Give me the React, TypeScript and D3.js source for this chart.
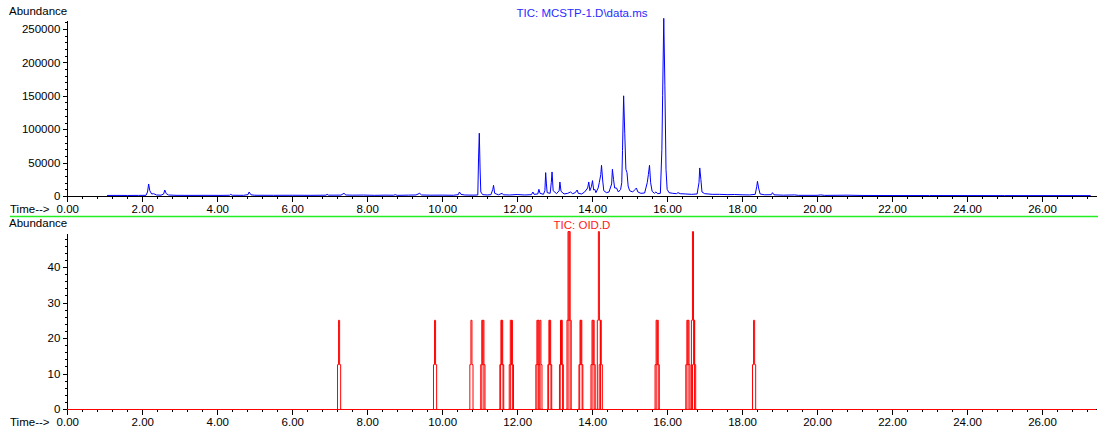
import React, { useRef, useEffect } from "react";
import * as d3 from "d3";

// TIC trace of MCSTP-1.D  [time (min), abundance]
const ticPoints: [number, number][] = [
  [1.06, 800], [1.3, 900], [1.6, 800], [1.9, 900], [2.1, 1000], [2.14, 6000], [2.17, 18000],
  [2.2, 8000], [2.25, 3000], [2.3, 3500], [2.38, 1500], [2.5, 1200], [2.57, 3000], [2.6, 9000],
  [2.64, 3500], [2.7, 1500], [2.9, 1000], [3.3, 900], [3.7, 1000], [4.1, 900], [4.33, 1100],
  [4.36, 2500], [4.4, 1100], [4.7, 1000], [4.82, 2000], [4.85, 6000], [4.9, 1800], [5.0, 1100],
  [5.5, 1000], [6.0, 1100], [6.5, 1000], [6.9, 1200], [6.93, 2500], [6.97, 1200], [7.3, 1300],
  [7.38, 4000], [7.43, 1500], [7.6, 1200], [7.9, 1400], [8.2, 1000], [8.5, 1300], [8.7, 1100],
  [8.75, 2000], [8.8, 1000], [9.1, 1300], [9.3, 1500], [9.4, 4000], [9.45, 1500], [9.7, 1200],
  [10.0, 1300], [10.3, 1100], [10.43, 2000], [10.46, 6000], [10.5, 2500], [10.6, 1500],
  [10.8, 1300], [10.95, 1500], [10.97, 57000], [10.99, 94000], [11.01, 42000], [11.03, 6000],
  [11.08, 2000], [11.2, 1500], [11.3, 2000], [11.35, 10000], [11.37, 16000], [11.4, 4000],
  [11.5, 1800], [11.6, 4000], [11.63, 1800], [11.8, 1500], [12.0, 2200], [12.2, 1500],
  [12.38, 2000], [12.42, 6000], [12.45, 2500], [12.55, 3000], [12.58, 10000], [12.61, 4000],
  [12.7, 2500], [12.74, 8000], [12.76, 35000], [12.78, 18000], [12.8, 5000], [12.88, 4000],
  [12.91, 20000], [12.93, 36000], [12.96, 8000], [13.05, 3500], [13.12, 8000], [13.14, 21000],
  [13.17, 7000], [13.25, 3000], [13.35, 4000], [13.42, 6000], [13.48, 3500], [13.55, 5000],
  [13.6, 9000], [13.63, 4000], [13.72, 3000], [13.8, 6000], [13.88, 12000], [13.91, 21000],
  [13.94, 8000], [13.98, 14000], [14.01, 23000], [14.04, 9000], [14.07, 10000], [14.1, 5000],
  [14.16, 12000], [14.19, 20000], [14.23, 32000], [14.25, 46000], [14.28, 24000], [14.31, 8000],
  [14.38, 5000], [14.45, 6000], [14.52, 18000], [14.54, 40000], [14.57, 25000], [14.6, 12000],
  [14.65, 12000], [14.7, 6000], [14.76, 10000], [14.79, 20000], [14.81, 68000], [14.84, 150000],
  [14.87, 94000], [14.9, 40000], [14.93, 35000], [14.96, 15000], [15.0, 8000], [15.08, 6000],
  [15.15, 10000], [15.18, 12000], [15.22, 6000], [15.3, 4000], [15.4, 4500], [15.47, 20000],
  [15.5, 32000], [15.53, 46000], [15.56, 20000], [15.6, 7000], [15.66, 4000], [15.7, 6000],
  [15.75, 3500], [15.82, 4000], [15.86, 70000], [15.88, 150000], [15.91, 266000],
  [15.94, 165000], [15.97, 40000], [16.0, 10000], [16.05, 5000], [16.15, 4000], [16.25, 3500],
  [16.29, 5000], [16.35, 3500], [16.5, 3000], [16.65, 2500], [16.8, 3000], [16.85, 20000],
  [16.87, 42000], [16.9, 25000], [16.93, 6000], [17.0, 3500], [17.2, 2500], [17.4, 2500],
  [17.6, 2000], [17.8, 2200], [18.0, 1800], [18.2, 1600], [18.35, 2500], [18.39, 14000],
  [18.41, 22000], [18.44, 12000], [18.48, 3000], [18.6, 1800], [18.78, 2000], [18.81, 5000],
  [18.85, 1800], [19.1, 1200], [19.4, 1600], [19.5, 1000], [20.0, 1000], [20.1, 1600],
  [20.2, 900], [20.8, 1200], [21.2, 800], [22, 700], [23, 700], [24, 650], [25, 600],
  [26, 600], [27.3, 600],
];

// OID.D peaks
const oidTimes = [
  7.25, 9.81, 10.78, 11.07, 11.1, 11.58, 11.6, 11.83, 11.86, 12.54, 12.57, 12.62, 12.86, 12.88,
  13.17, 13.19, 13.37, 13.4, 13.69, 13.71, 14.01, 14.04, 14.18, 14.23, 15.72, 15.75, 16.54,
  16.57, 16.69, 16.72, 18.32,
];
const oidHeights = [
  25, 25, 25, 25, 25, 25, 25, 25, 25, 25, 25, 25, 25, 25,
  25, 25, 50, 50, 25, 25, 25, 25, 50, 25, 25, 25, 25,
  25, 50, 25, 25,
];

const timeMajor = d3.range(0, 27, 2);
const timeMinor = d3.range(0, 27.3, 0.4);
const topMajor = [0, 50000, 100000, 150000, 200000, 250000];
const topMinor = d3.range(0, 262000, 10000);
const botMajor = [0, 10, 20, 30, 40];
const botMinor = d3.range(0, 50, 2);

const FONT = "'Liberation Sans', Arial, sans-serif";

const App = () => {
  const svgRef = useRef<SVGSVGElement>(null);

  useEffect(() => {
    const svg = d3.select(svgRef.current);
    svg.selectAll("*").remove();

    const x = d3.scaleLinear().domain([0, 27.44]).range([67.3, 1096]);
    const yTop = d3.scaleLinear().domain([0, 263500]).range([196, 20]);
    const yBot = d3.scaleLinear().domain([0, 49.6]).range([409, 233]);

    const styleAxis = (g: any) => {
      g.attr("font-family", FONT).attr("font-size", 11.5);
      g.selectAll("path,line").attr("stroke", "#000").attr("shape-rendering", "crispEdges");
      g.selectAll("text").attr("fill", "#000");
    };

    const drawPanel = (y: any, baseY: number, major: number[], minor: number[]) => {
      // minor x ticks
      svg.append("g")
        .attr("transform", `translate(0,${baseY})`)
        .call(d3.axisBottom(x).tickValues(timeMinor).tickSize(3).tickFormat(() => ""))
        .call(styleAxis)
        .call((g: any) => g.select(".domain").remove());
      // major x ticks + axis line
      svg.append("g")
        .attr("transform", `translate(0,${baseY})`)
        .call(d3.axisBottom(x).tickValues(timeMajor).tickSize(6).tickSizeOuter(0).tickFormat(d3.format(".2f")))
        .call(styleAxis);
      // minor y ticks
      svg.append("g")
        .attr("transform", "translate(67.3,0)")
        .call(d3.axisLeft(y).tickValues(minor).tickSize(2).tickFormat(() => ""))
        .call(styleAxis)
        .call((g: any) => g.select(".domain").remove());
      // major y ticks + axis line
      svg.append("g")
        .attr("transform", "translate(67.3,0)")
        .call(d3.axisLeft(y).tickValues(major).tickSize(4).tickSizeOuter(0).tickFormat(d3.format("d")))
        .call(styleAxis);
    };

    drawPanel(yTop, 196, topMajor, topMinor);
    drawPanel(yBot, 409, botMajor, botMinor);

    // top trace
    const line = d3.line<[number, number]>()
      .x((d) => x(d[0]))
      .y((d) => yTop(d[1]));
    svg.append("path")
      .datum(ticPoints)
      .attr("d", line)
      .attr("fill", "none")
      .attr("stroke", "#0000ff")
      .attr("stroke-width", 1);

    // bottom trace: baseline + stepped peaks
    svg.append("line")
      .attr("x1", x(0)).attr("x2", x(27.44))
      .attr("y1", yBot(0)).attr("y2", yBot(0))
      .attr("stroke", "#ff0000")
      .attr("shape-rendering", "crispEdges");

    const w = 0.028;
    const step = d3.line<[number, number]>()
      .x((d) => x(d[0]))
      .y((d) => yBot(d[1]))
      .curve(d3.curveStep);
    oidTimes.forEach((t, i) => {
      const h = oidHeights[i];
      const pts: [number, number][] = [
        [t - 2 * w, 0], [t - w, h / 2], [t, h], [t + w, h / 2], [t + 2 * w, 0],
      ];
      svg.append("path")
        .datum(pts)
        .attr("d", step)
        .attr("fill", "none")
        .attr("stroke", "#ff0000")
        .attr("stroke-width", 1);
    });

    // separator
    svg.append("line")
      .attr("x1", 10).attr("x2", 1098)
      .attr("y1", 216.5).attr("y2", 216.5)
      .attr("stroke", "#22ee22")
      .attr("stroke-width", 1.5);

    const label = (txt: string, lx: number, ly: number, color = "#000", anchor = "start") =>
      svg.append("text")
        .attr("x", lx).attr("y", ly)
        .attr("font-family", FONT).attr("font-size", 11.5)
        .attr("fill", color)
        .attr("text-anchor", anchor)
        .text(txt);

    label("Abundance", 9, 15);
    label("Time-->", 10, 213);
    label("TIC: MCSTP-1.D\\data.ms", 582, 17, "#2a2aff", "middle");
    label("Abundance", 9, 227);
    label("Time-->", 10, 426);
    label("TIC: OID.D", 582, 229, "#ff1a1a", "middle");
  }, []);

  return (
    <div style={{ position: "absolute", left: 0, top: 0 }}>
      <svg ref={svgRef} width={1098} height={432} style={{ display: "block", background: "#fff" }}></svg>
    </div>
  );
};

export default App;
